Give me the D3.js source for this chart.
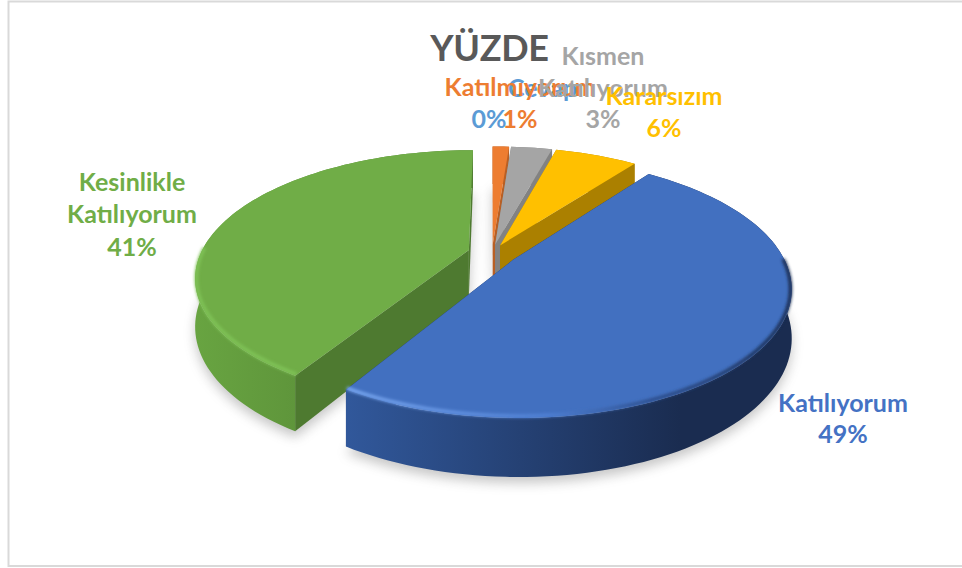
<!DOCTYPE html>
<html>
<head>
<meta charset="utf-8">
<script src="https://cdn.jsdelivr.net/npm/d3@7"></script>
<style>
  html, body { margin: 0; padding: 0; background: #fff; }
  svg { display: block; }
  text { font-family: Lato, "Open Sans", sans-serif; font-weight: 700; }
</style>
</head>
<body>
<div id="chart"></div>
<script>
// Chart values, in the order they sit clockwise from 12 o'clock
const categories = ["Cevap", "Katılmıyorum", "Kısmen Katılıyorum", "Kararsızım", "Katılıyorum", "Kesinlikle Katılıyorum"];
const values = [0, 1.2, 3, 6, 48.5, 41.3];
const titleText = "YÜZDE";

const width = 962, height = 568;

// ----- Look of each slice, same order as categories -----
const topColors = ["#5b9bd5", "#ed7d31", "#a5a5a5", "#ffc000", "#4270c0", "#70ad47"];
const cutColors = ["#3a6d9c", "#b85f24", "#828282", "#ab8000", "#1a2c50", "#4e7a30"];
const wallStops = [
    ["#3a6d9c", "#3a6d9c"], ["#b85f24", "#b85f24"], ["#828282", "#828282"], ["#ab8000", "#ab8000"],
    ["#31589b", "#1a2c50"], ["#68a441", "#4f7c31"]
];
const rimLight = [null, null, null, null, "#7aa8f0", "#7fc256"];
const explode = [0.07, 0.07, 0.07, 0.07, 0.095, 0.09];

// ----- Label layout: text, x, baseline, anchor per line -----
const labelLines = [
    [["Cevap", 508, 97, "start"], ["0%", 489, 128, "middle"]],
    [["Katılmıyorum", 520, 96, "middle"], ["1%", 520, 128, "middle"]],
    [["Kısmen", 603, 65, "middle"], ["Katılıyorum", 603, 97, "middle"], ["3%", 603, 128, "middle"]],
    [["Kararsızım", 664, 105, "middle"], ["6%", 664, 137, "middle"]],
    [["Katılıyorum", 843, 412, "middle"], ["49%", 843, 443, "middle"]],
    [["Kesinlikle", 132, 191, "middle"], ["Katılıyorum", 132, 223, "middle"], ["41%", 132, 256, "middle"]]
];
const labelColors = ["#5b9bd5", "#ed7d31", "#a5a5a5", "#ffc000", "#4472c4", "#70ad47"];

const svg = d3.select("#chart").append("svg")
    .attr("width", width)
    .attr("height", height);

const defs = svg.append("defs");
defs.append("filter").attr("id", "soft")
    .attr("x", "-10%").attr("y", "-10%").attr("width", "120%").attr("height", "130%")
  .append("feGaussianBlur").attr("stdDeviation", 6);
defs.append("filter").attr("id", "rimBlur")
    .attr("x", "-5%").attr("y", "-20%").attr("width", "110%").attr("height", "140%")
  .append("feGaussianBlur").attr("stdDeviation", 1.6);

// frame of the chart area
svg.append("path")
    .attr("d", "M962,1.5H8.5V566H962")
    .attr("fill", "none")
    .attr("stroke", "#d9d9d9")
    .attr("stroke-width", 2);

// ----- Perspective pie -----
const cx = 492, cy = 253, rx = 268, ry = 122, depth = 46, persp = 0.21;

const xScale = d3.scaleLinear().domain([-1, 1]).range([cx - rx, cx + rx]);
const zScale = d3.scaleLinear().domain([-1, 1]).range([cy - ry, cy + ry]);

// x, z on the pie plate (z grows toward the viewer), lift 0 = top face, 1 = bottom
function project(x, z, lift) {
    const s = 1 / (1 - persp * z);
    return [xScale(x * s), zScale(z * s) + depth * s * lift];
}

const line = d3.line();
const pieData = d3.pie().sort(null).value(d => d)(values);

const slices = pieData.map((d, i) => {
    const mid = (d.startAngle + d.endAngle) / 2;
    const ox = explode[i] * Math.sin(mid);
    const oz = -explode[i] * Math.cos(mid);
    const n = Math.max(2, Math.ceil((d.endAngle - d.startAngle) / 0.03));
    const rim = d3.range(n + 1).map(k => {
        const a = d.startAngle + (d.endAngle - d.startAngle) * k / n;
        return [ox + Math.sin(a), oz - Math.cos(a), a];
    });
    return { i, ox, oz, rim };
});

function pts(list, lift) {
    return list.map(p => project(p[0], p[1], lift));
}

// soft shadow under everything
const gShadow = svg.append("g")
    .attr("filter", "url(#soft)")
    .attr("opacity", 0.33)
    .attr("transform", "translate(0,6)");

slices.forEach(s => {
    if (values[s.i] < 0.5) return;
    const apex = [s.ox, s.oz];
    gShadow.append("path")
        .attr("d", line([...pts([apex], 1), ...pts(s.rim, 1)]) + "Z")
        .attr("fill", "#555");
});

// drawn back to front: small slices, then green, then blue in front
const order = [1, 2, 3, 5, 4];

order.forEach(i => {
    const s = slices[i];
    const apex = [s.ox, s.oz];
    const g = svg.append("g").attr("class", "slice");

    const first = s.rim[0], last = s.rim[s.rim.length - 1];

    // the two cut faces
    [first, last].forEach(end => {
        g.append("path")
            .attr("d", line([project(apex[0], apex[1], 0), project(end[0], end[1], 0),
                             project(end[0], end[1], 1), project(apex[0], apex[1], 1)]) + "Z")
            .attr("fill", cutColors[i]);
    });

    // outer wall, shaded left to right
    const xs = pts(s.rim, 0).map(p => p[0]);
    const grad = defs.append("linearGradient")
        .attr("id", "wall" + i)
        .attr("gradientUnits", "userSpaceOnUse")
        .attr("x1", d3.min(xs)).attr("x2", d3.max(xs))
        .attr("y1", 0).attr("y2", 0);
    grad.append("stop").attr("offset", "0%").attr("stop-color", wallStops[i][0]);
    grad.append("stop").attr("offset", i === 4 ? "75%" : "100%").attr("stop-color", wallStops[i][1]);

    g.append("path")
        .attr("d", line([...pts(s.rim, 0), ...pts(s.rim, 1).reverse()]) + "Z")
        .attr("fill", `url(#wall${i})`);

    // top face
    g.append("path")
        .attr("d", line([project(apex[0], apex[1], 0), ...pts(s.rim, 0)]) + "Z")
        .attr("fill", topColors[i]);

    // bevel along the front rim
    if (rimLight[i]) {
        const front = s.rim.filter(p => p[1] - s.oz > -0.02);
        const inset = front.map(p => [s.ox + (p[0] - s.ox) * 0.996, s.oz + (p[1] - s.oz) * 0.99]);
        const light = defs.append("linearGradient")
            .attr("id", "rim" + i)
            .attr("gradientUnits", "userSpaceOnUse")
            .attr("x1", d3.min(xs)).attr("x2", d3.max(xs))
            .attr("y1", 0).attr("y2", 0);
        if (i === 4) {
            light.append("stop").attr("offset", "0%").attr("stop-color", rimLight[i]);
            light.append("stop").attr("offset", "45%").attr("stop-color", "#4f80d4");
            light.append("stop").attr("offset", "68%").attr("stop-color", "#2d4f8e");
            light.append("stop").attr("offset", "100%").attr("stop-color", "#1a2c50");
        } else {
            light.append("stop").attr("offset", "0%").attr("stop-color", rimLight[i]);
            light.append("stop").attr("offset", "100%").attr("stop-color", rimLight[i]);
        }
        g.append("path")
            .attr("d", line(pts(inset, 0)))
            .attr("fill", "none")
            .attr("stroke", `url(#rim${i})`)
            .attr("stroke-width", 3.5)
            .attr("filter", "url(#rimBlur)");
    }
});

// ----- Title -----
svg.append("text")
    .attr("x", 489.5)
    .attr("y", 61)
    .attr("text-anchor", "middle")
    .attr("font-size", 36)
    .attr("letter-spacing", "-0.3")
    .attr("fill", "#595959")
    .text(titleText);

// ----- Data labels -----
labelLines.forEach((lines, i) => {
    const g = svg.append("g").attr("class", "label").attr("fill", labelColors[i]);
    g.selectAll("text")
        .data(lines)
        .enter().append("text")
        .attr("x", d => d[1])
        .attr("y", d => d[2])
        .attr("text-anchor", d => d[3])
        .attr("font-size", 25)
        .text(d => d[0]);
});
</script>
</body>
</html>
